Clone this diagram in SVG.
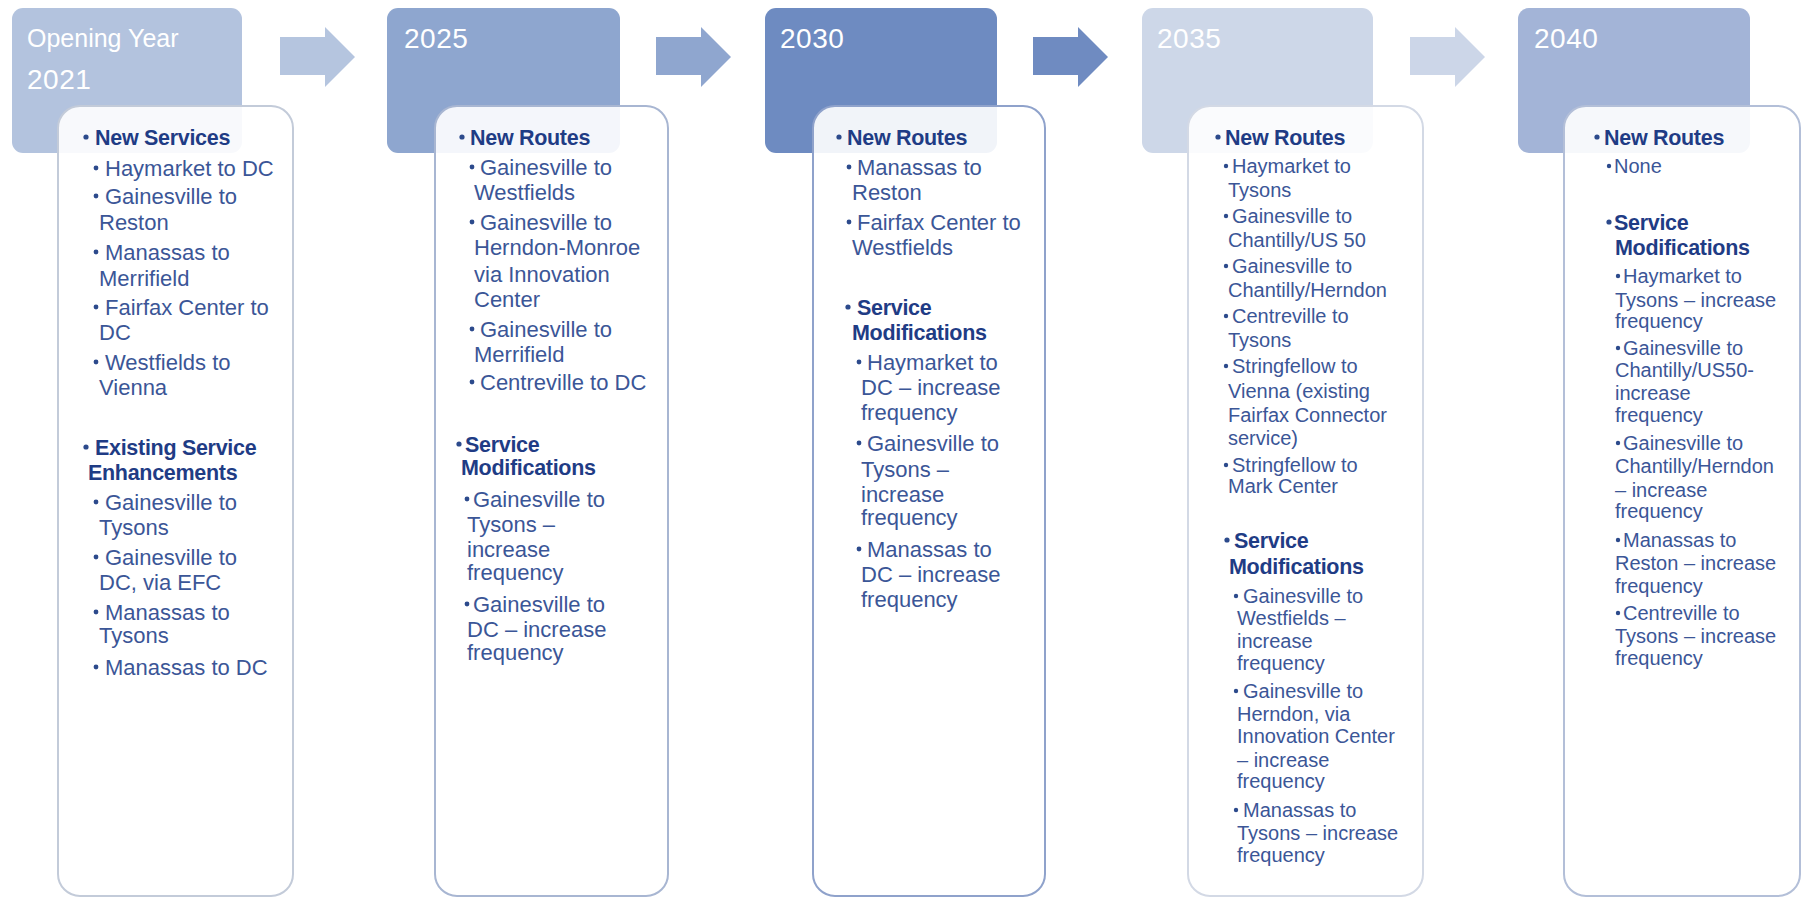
<svg xmlns="http://www.w3.org/2000/svg" width="1817" height="899" viewBox="0 0 1817 899">
  <style>
    text { font-family: "Liberation Sans", Arial, sans-serif; }
    .hdr { fill: #ffffff; font-size: 25px; }
    .yr { font-size: 28px; letter-spacing: 0.5px; }
    .card { fill: #ffffff; fill-opacity: 0.9; stroke-width: 2; }
    .hd { fill: #1f3c85; font-weight: bold; font-size: 21.5px; letter-spacing: -0.3px; }
    .it { fill: #3b5697; font-size: 22px; }
    .sm { font-size: 20px; }
    .dot { fill: #2c4a8c; }
  </style>

  <rect width="1817" height="899" fill="#ffffff"/>

  <!-- arrows between stages -->
  <g id="connectors">
    <polygon points="280,37 325,37 325,27 355,57 325,87 325,75 280,75" fill="#b5c5df"/>
    <polygon points="656,37 701,37 701,27 731,57 701,87 701,75 656,75" fill="#8fa6cf"/>
    <polygon points="1033,37 1078,37 1078,27 1108,57 1078,87 1078,75 1033,75" fill="#6f8bc1"/>
    <polygon points="1410,37 1455,37 1455,27 1485,57 1455,87 1455,75 1410,75" fill="#ccd6e8"/>
  </g>

  <!-- Opening Year 2021 -->
  <g id="stage-2021">
    <rect x="12" y="8" width="230" height="145" rx="11" fill="#b3c3de"/>
    <text class="hdr"><tspan x="27" y="47">Opening Year</tspan><tspan class="yr" x="27" y="89">2021</tspan></text>
    <rect class="card" x="58" y="106" width="235" height="790" rx="22" stroke="#c3cbd9"/>
    <circle class="dot" cx="86" cy="137" r="2.6"/>
    <text class="hd" x="95" y="145">New Services</text>
    <g class="dot">
      <circle cx="96" cy="168" r="2.4"/><circle cx="96" cy="196" r="2.4"/><circle cx="96" cy="252" r="2.4"/>
      <circle cx="96" cy="307" r="2.4"/><circle cx="96" cy="362" r="2.4"/>
    </g>
    <text class="it">
      <tspan x="105" y="176">Haymarket to DC</tspan>
      <tspan x="105" y="204">Gainesville to</tspan><tspan x="99" y="230">Reston</tspan>
      <tspan x="105" y="260">Manassas to</tspan><tspan x="99" y="286">Merrifield</tspan>
      <tspan x="105" y="315">Fairfax Center to</tspan><tspan x="99" y="340">DC</tspan>
      <tspan x="105" y="370">Westfields to</tspan><tspan x="99" y="395">Vienna</tspan>
    </text>
    <circle class="dot" cx="86" cy="447" r="2.6"/>
    <text class="hd"><tspan x="95" y="455">Existing Service</tspan><tspan x="88" y="480">Enhancements</tspan></text>
    <g class="dot">
      <circle cx="96" cy="502" r="2.4"/><circle cx="96" cy="557" r="2.4"/><circle cx="96" cy="612" r="2.4"/>
      <circle cx="96" cy="667" r="2.4"/>
    </g>
    <text class="it">
      <tspan x="105" y="510">Gainesville to</tspan><tspan x="99" y="535">Tysons</tspan>
      <tspan x="105" y="565">Gainesville to</tspan><tspan x="99" y="590">DC, via EFC</tspan>
      <tspan x="105" y="620">Manassas to</tspan><tspan x="99" y="643">Tysons</tspan>
      <tspan x="105" y="675">Manassas to DC</tspan>
    </text>
  </g>

  <!-- 2025 -->
  <g id="stage-2025">
    <rect x="387" y="8" width="233" height="145" rx="11" fill="#8ea6cf"/>
    <text class="hdr yr" x="404" y="48">2025</text>
    <rect class="card" x="435" y="106" width="233" height="790" rx="22" stroke="#a8b6d2"/>
    <circle class="dot" cx="462" cy="137" r="2.6"/>
    <text class="hd" x="470" y="145">New Routes</text>
    <g class="dot">
      <circle cx="472" cy="167" r="2.4"/><circle cx="472" cy="222" r="2.4"/><circle cx="472" cy="329" r="2.4"/>
      <circle cx="472" cy="382" r="2.4"/>
    </g>
    <text class="it">
      <tspan x="480" y="175">Gainesville to</tspan><tspan x="474" y="200">Westfields</tspan>
      <tspan x="480" y="230">Gainesville to</tspan><tspan x="474" y="255">Herndon-Monroe</tspan>
      <tspan x="474" y="282">via Innovation</tspan><tspan x="474" y="307">Center</tspan>
      <tspan x="480" y="337">Gainesville to</tspan><tspan x="474" y="362">Merrifield</tspan>
      <tspan x="480" y="390">Centreville to DC</tspan>
    </text>
    <circle class="dot" cx="459" cy="444" r="2.6"/>
    <text class="hd"><tspan x="465" y="452">Service</tspan><tspan x="461" y="475">Modifications</tspan></text>
    <g class="dot">
      <circle cx="467" cy="499" r="2.4"/><circle cx="467" cy="604" r="2.4"/>
    </g>
    <text class="it">
      <tspan x="473" y="507">Gainesville to</tspan><tspan x="467" y="532">Tysons –</tspan>
      <tspan x="467" y="557">increase</tspan><tspan x="467" y="580">frequency</tspan>
      <tspan x="473" y="612">Gainesville to</tspan><tspan x="467" y="637">DC – increase</tspan>
      <tspan x="467" y="660">frequency</tspan>
    </text>
  </g>

  <!-- 2030 -->
  <g id="stage-2030">
    <rect x="765" y="8" width="232" height="145" rx="11" fill="#6e8bc1"/>
    <text class="hdr yr" x="780" y="48">2030</text>
    <rect class="card" x="813" y="106" width="232" height="790" rx="22" stroke="#8fa2cb"/>
    <circle class="dot" cx="839" cy="137" r="2.6"/>
    <text class="hd" x="847" y="145">New Routes</text>
    <g class="dot">
      <circle cx="849" cy="167" r="2.4"/><circle cx="849" cy="222" r="2.4"/>
    </g>
    <text class="it">
      <tspan x="857" y="175">Manassas to</tspan><tspan x="852" y="200">Reston</tspan>
      <tspan x="857" y="230">Fairfax Center to</tspan><tspan x="852" y="255">Westfields</tspan>
    </text>
    <circle class="dot" cx="848" cy="307" r="2.6"/>
    <text class="hd"><tspan x="857" y="315">Service</tspan><tspan x="852" y="340">Modifications</tspan></text>
    <g class="dot">
      <circle cx="859" cy="362" r="2.4"/><circle cx="859" cy="443" r="2.4"/><circle cx="859" cy="549" r="2.4"/>
    </g>
    <text class="it">
      <tspan x="867" y="370">Haymarket to</tspan><tspan x="861" y="395">DC – increase</tspan>
      <tspan x="861" y="420">frequency</tspan>
      <tspan x="867" y="451">Gainesville to</tspan><tspan x="861" y="477">Tysons –</tspan>
      <tspan x="861" y="502">increase</tspan><tspan x="861" y="525">frequency</tspan>
      <tspan x="867" y="557">Manassas to</tspan><tspan x="861" y="582">DC – increase</tspan>
      <tspan x="861" y="607">frequency</tspan>
    </text>
  </g>

  <!-- 2035 -->
  <g id="stage-2035">
    <rect x="1142" y="8" width="231" height="145" rx="11" fill="#cdd7e8"/>
    <text class="hdr yr" x="1157" y="48">2035</text>
    <rect class="card" x="1188" y="106" width="235" height="790" rx="22" stroke="#d3d9e5"/>
    <circle class="dot" cx="1218" cy="137" r="2.6"/>
    <text class="hd" x="1225" y="145">New Routes</text>
    <g class="dot">
      <circle cx="1226" cy="166" r="2.2"/><circle cx="1226" cy="216" r="2.2"/><circle cx="1226" cy="266" r="2.2"/>
      <circle cx="1226" cy="316" r="2.2"/><circle cx="1226" cy="366" r="2.2"/><circle cx="1226" cy="465" r="2.2"/>
    </g>
    <text class="it sm">
      <tspan x="1232" y="173">Haymarket to</tspan><tspan x="1228" y="197">Tysons</tspan>
      <tspan x="1232" y="223">Gainesville to</tspan><tspan x="1228" y="247">Chantilly/US 50</tspan>
      <tspan x="1232" y="273">Gainesville to</tspan><tspan x="1228" y="297">Chantilly/Herndon</tspan>
      <tspan x="1232" y="323">Centreville to</tspan><tspan x="1228" y="347">Tysons</tspan>
      <tspan x="1232" y="373">Stringfellow to</tspan><tspan x="1228" y="398">Vienna (existing</tspan>
      <tspan x="1228" y="422">Fairfax Connector</tspan><tspan x="1228" y="445">service)</tspan>
      <tspan x="1232" y="472">Stringfellow to</tspan><tspan x="1228" y="493">Mark Center</tspan>
    </text>
    <circle class="dot" cx="1227" cy="540" r="2.6"/>
    <text class="hd"><tspan x="1234" y="548">Service</tspan><tspan x="1229" y="574">Modifications</tspan></text>
    <g class="dot">
      <circle cx="1236" cy="596" r="2.2"/><circle cx="1236" cy="691" r="2.2"/><circle cx="1236" cy="810" r="2.2"/>
    </g>
    <text class="it sm">
      <tspan x="1243" y="603">Gainesville to</tspan><tspan x="1237" y="625">Westfields –</tspan>
      <tspan x="1237" y="648">increase</tspan><tspan x="1237" y="670">frequency</tspan>
      <tspan x="1243" y="698">Gainesville to</tspan><tspan x="1237" y="721">Herndon, via</tspan>
      <tspan x="1237" y="743">Innovation Center</tspan><tspan x="1237" y="767">– increase</tspan>
      <tspan x="1237" y="788">frequency</tspan>
      <tspan x="1243" y="817">Manassas to</tspan><tspan x="1237" y="840">Tysons – increase</tspan>
      <tspan x="1237" y="862">frequency</tspan>
    </text>
  </g>

  <!-- 2040 -->
  <g id="stage-2040">
    <rect x="1518" y="8" width="232" height="145" rx="11" fill="#a3b4d7"/>
    <text class="hdr yr" x="1534" y="48">2040</text>
    <rect class="card" x="1564" y="106" width="236" height="790" rx="22" stroke="#b3bfd8"/>
    <circle class="dot" cx="1597" cy="137" r="2.6"/>
    <text class="hd" x="1604" y="145">New Routes</text>
    <circle class="dot" cx="1609" cy="166" r="2.2"/>
    <text class="it sm" x="1614" y="173">None</text>
    <circle class="dot" cx="1609" cy="222" r="2.6"/>
    <text class="hd"><tspan x="1614" y="230">Service</tspan><tspan x="1615" y="255">Modifications</tspan></text>
    <g class="dot">
      <circle cx="1618" cy="276" r="2.2"/><circle cx="1618" cy="348" r="2.2"/><circle cx="1618" cy="443" r="2.2"/>
      <circle cx="1618" cy="540" r="2.2"/><circle cx="1618" cy="613" r="2.2"/>
    </g>
    <text class="it sm">
      <tspan x="1623" y="283">Haymarket to</tspan><tspan x="1615" y="307">Tysons – increase</tspan>
      <tspan x="1615" y="328">frequency</tspan>
      <tspan x="1623" y="355">Gainesville to</tspan><tspan x="1615" y="377">Chantilly/US50-</tspan>
      <tspan x="1615" y="400">increase</tspan><tspan x="1615" y="422">frequency</tspan>
      <tspan x="1623" y="450">Gainesville to</tspan><tspan x="1615" y="473">Chantilly/Herndon</tspan>
      <tspan x="1615" y="497">– increase</tspan><tspan x="1615" y="518">frequency</tspan>
      <tspan x="1623" y="547">Manassas to</tspan><tspan x="1615" y="570">Reston – increase</tspan>
      <tspan x="1615" y="593">frequency</tspan>
      <tspan x="1623" y="620">Centreville to</tspan><tspan x="1615" y="643">Tysons – increase</tspan>
      <tspan x="1615" y="665">frequency</tspan>
    </text>
  </g>
</svg>
